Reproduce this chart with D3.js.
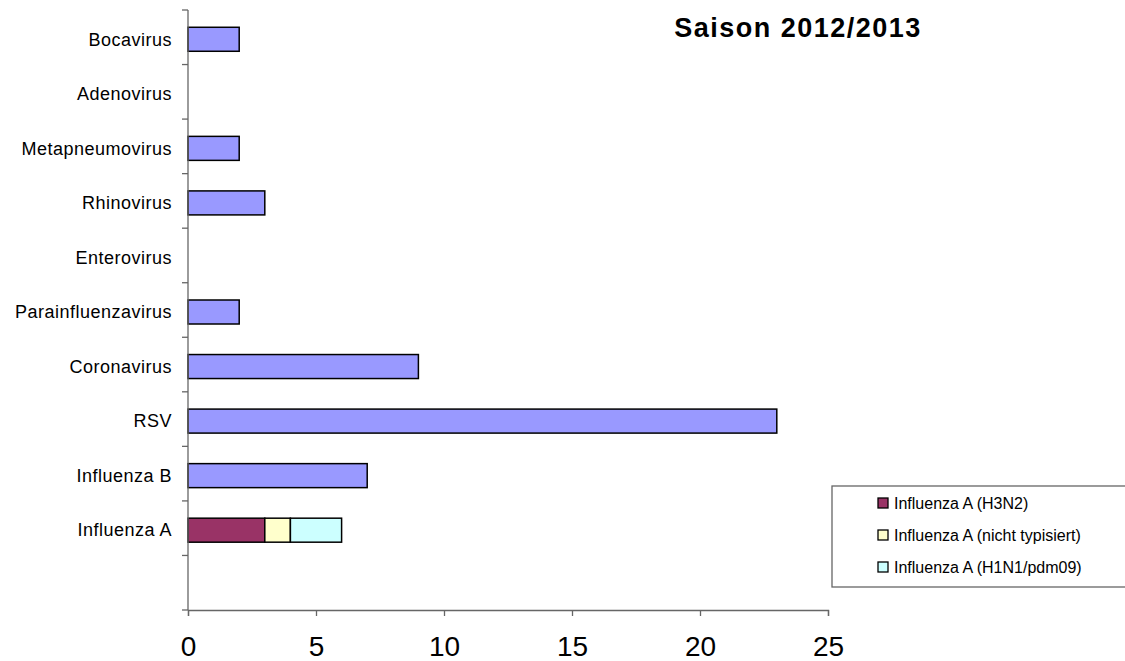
<!DOCTYPE html>
<html>
<head>
<meta charset="utf-8">
<script src="https://cdn.jsdelivr.net/npm/d3@7"></script>
<style>
  body { margin: 0; background: #fff; }
  svg { font-family: Arial, "Liberation Sans", sans-serif; }
</style>
</head>
<body>
<svg width="1125" height="661"></svg>
<script>
// chart data
const categories = ["Bocavirus", "Adenovirus", "Metapneumovirus", "Rhinovirus", "Enterovirus",
    "Parainfluenzavirus", "Coronavirus", "RSV", "Influenza B", "Influenza A"];
const gesamt   = [2, 0, 2, 3, 0, 2, 9, 23, 7, 0];
const fluH3N2  = [0, 0, 0, 0, 0, 0, 0, 0, 0, 3];
const fluNT    = [0, 0, 0, 0, 0, 0, 0, 0, 0, 1];
const fluH1N1  = [0, 0, 0, 0, 0, 0, 0, 0, 0, 2];
const xTicks = [0, 5, 10, 15, 20, 25];
const legendLabels = ["Influenza A (H3N2)", "Influenza A (nicht typisiert)", "Influenza A (H1N1/pdm09)"];

const keys = ["gesamt", "h3n2", "nt", "h1n1"];
const colors = { gesamt: "#9999FF", h3n2: "#993366", nt: "#FFFFCC", h1n1: "#CCFFFF" };

const table = categories.map((c, i) => ({
    cat: c, gesamt: gesamt[i], h3n2: fluH3N2[i], nt: fluNT[i], h1n1: fluH1N1[i]
}));

const svg = d3.select("svg");

const x = d3.scaleLinear().domain([0, 25]).range([188, 828]);
// one empty band below Influenza A
const y = d3.scaleBand().domain(categories.concat([" "])).range([10, 610]);
const barH = 24;

const stacked = d3.stack().keys(keys)(table);

// bars
svg.append("g").selectAll("g")
    .data(stacked)
    .join("g")
    .attr("fill", d => colors[d.key])
    .selectAll("rect")
    .data(d => d.filter(p => p[1] - p[0] > 0))
    .join("rect")
    .attr("x", d => x(d[0]))
    .attr("y", d => y(d.data.cat) + (y.bandwidth() - barH) / 2 + 2)
    .attr("width", d => x(d[1]) - x(d[0]))
    .attr("height", barH)
    .attr("stroke", "#000")
    .attr("stroke-width", 1.5);

// y axis: line, ticks at band edges, labels at centers
const yAxis = svg.append("g");
yAxis.append("line")
    .attr("x1", x(0)).attr("x2", x(0))
    .attr("y1", y.range()[0]).attr("y2", y.range()[1])
    .attr("stroke", "#666").attr("stroke-width", 1.3);
const edges = d3.range(y.domain().length + 1).map(i => y.range()[0] + i * y.step());
yAxis.selectAll(".tick")
    .data(edges)
    .join("line")
    .attr("x1", x(0) - 6).attr("x2", x(0))
    .attr("y1", d => d).attr("y2", d => d)
    .attr("stroke", "#666").attr("stroke-width", 1.3);
yAxis.selectAll("text")
    .data(categories)
    .join("text")
    .attr("x", 172)
    .attr("y", d => y(d) + y.bandwidth() / 2 + 2)
    .attr("dy", "0.35em")
    .attr("text-anchor", "end")
    .style("font-size", "18px")
    .style("letter-spacing", "0.5px")
    .attr("fill", "#000")
    .text(d => d);

// x axis
const xAxis = svg.append("g")
    .attr("transform", `translate(0,610)`)
    .call(d3.axisBottom(x).tickValues(xTicks).tickSize(6).tickPadding(20).tickFormat(d3.format("d")));
xAxis.select(".domain").attr("stroke", "#666").attr("stroke-width", 1.3);
xAxis.selectAll(".tick line").attr("stroke", "#666").attr("stroke-width", 1.3);
xAxis.selectAll(".tick text")
    .style("font-size", "28px")
    .style("font-family", "Arial, 'Liberation Sans', sans-serif")
    .attr("fill", "#000");

// title
svg.append("text")
    .attr("x", 798)
    .attr("y", 37)
    .attr("text-anchor", "middle")
    .style("font-size", "27px")
    .style("font-weight", "bold")
    .style("letter-spacing", "1.5px")
    .text("Saison 2012/2013");

// legend
const legend = svg.append("g").attr("transform", "translate(832,486)");
legend.append("rect")
    .attr("width", 300).attr("height", 101)
    .attr("fill", "#fff")
    .attr("stroke", "#666").attr("stroke-width", 1.3);
const legItems = legend.selectAll(".item")
    .data(keys.slice(1))
    .join("g")
    .attr("class", "item")
    .attr("transform", (d, i) => `translate(0,${17 + i * 32})`);
legItems.append("rect")
    .attr("x", 46).attr("y", -5)
    .attr("width", 10).attr("height", 10)
    .attr("fill", d => colors[d])
    .attr("stroke", "#000").attr("stroke-width", 1.3);
legItems.append("text")
    .attr("x", 62)
    .attr("dy", "0.35em")
    .style("font-size", "16px")
    .text((d, i) => legendLabels[i]);
</script>
</body>
</html>
